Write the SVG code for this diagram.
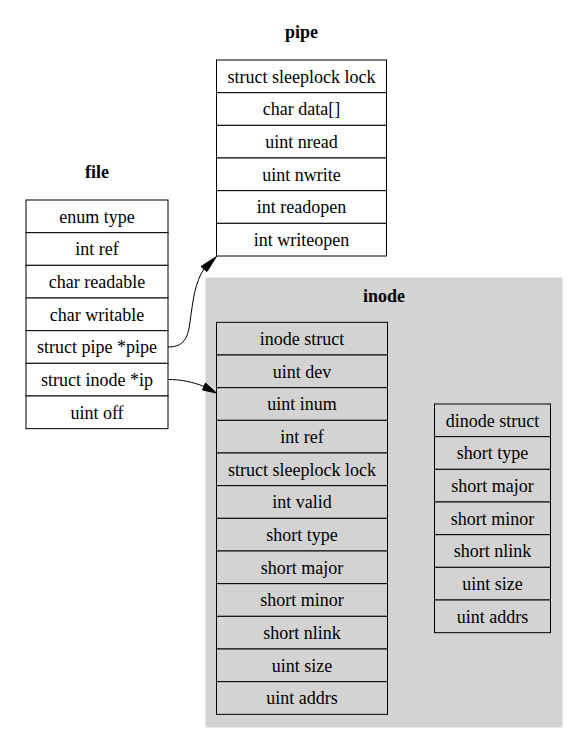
<svg xmlns="http://www.w3.org/2000/svg" width="577" height="743" viewBox="0 0 577 743">
<style>
.cell{fill:#fff;stroke:#000;stroke-width:1}
.gcell{fill:#d3d3d3;stroke:#000;stroke-width:1}
text{font-family:"Liberation Serif",serif;font-size:18px;text-anchor:middle;fill:#000}
.title{font-weight:bold}
.edge{fill:none;stroke:#000;stroke-width:1}
</style>
<rect width="577" height="743" fill="#fff"/>
<g id="cluster_inode">
<rect x="206" y="278" width="356" height="449" fill="#d3d3d3" stroke="#d3d3d3"/>
<text class="title" x="384" y="302">inode</text>
</g>
<g id="file">
<text class="title" x="97" y="178">file</text>
<rect class="cell" x="26" y="200" width="142" height="32.67"/>
<rect class="cell" x="26" y="232.67" width="142" height="32.67"/>
<rect class="cell" x="26" y="265.33" width="142" height="32.67"/>
<rect class="cell" x="26" y="298" width="142" height="32.67"/>
<rect class="cell" x="26" y="330.67" width="142" height="32.67"/>
<rect class="cell" x="26" y="363.33" width="142" height="32.67"/>
<rect class="cell" x="26" y="396" width="142" height="32.67"/>
<text x="97" y="222.5">enum type</text>
<text x="97" y="255.2">int ref</text>
<text x="97" y="287.8">char readable</text>
<text x="97" y="320.5">char writable</text>
<text x="97" y="353.2">struct pipe *pipe</text>
<text x="97" y="385.8">struct inode *ip</text>
<text x="97" y="418.5">uint off</text>
</g>
<g id="pipe">
<text class="title" x="301.5" y="38">pipe</text>
<rect class="cell" x="216.5" y="60" width="170" height="32.67"/>
<rect class="cell" x="216.5" y="92.67" width="170" height="32.67"/>
<rect class="cell" x="216.5" y="125.33" width="170" height="32.67"/>
<rect class="cell" x="216.5" y="158" width="170" height="32.67"/>
<rect class="cell" x="216.5" y="190.67" width="170" height="32.67"/>
<rect class="cell" x="216.5" y="223.33" width="170" height="32.67"/>
<text x="301.5" y="82.5">struct sleeplock lock</text>
<text x="301.5" y="115.2">char data[]</text>
<text x="301.5" y="147.8">uint nread</text>
<text x="301.5" y="180.5">uint nwrite</text>
<text x="301.5" y="213.2">int readopen</text>
<text x="301.5" y="245.8">int writeopen</text>
</g>
<g id="inode_struct">
<rect class="gcell" x="216.5" y="322.33" width="171" height="32.67"/>
<rect class="gcell" x="216.5" y="355" width="171" height="32.67"/>
<rect class="gcell" x="216.5" y="387.67" width="171" height="32.67"/>
<rect class="gcell" x="216.5" y="420.33" width="171" height="32.67"/>
<rect class="gcell" x="216.5" y="453" width="171" height="32.67"/>
<rect class="gcell" x="216.5" y="485.67" width="171" height="32.67"/>
<rect class="gcell" x="216.5" y="518.33" width="171" height="32.67"/>
<rect class="gcell" x="216.5" y="551" width="171" height="32.67"/>
<rect class="gcell" x="216.5" y="583.67" width="171" height="32.67"/>
<rect class="gcell" x="216.5" y="616.33" width="171" height="32.67"/>
<rect class="gcell" x="216.5" y="649" width="171" height="32.67"/>
<rect class="gcell" x="216.5" y="681.67" width="171" height="32.67"/>
<text x="302" y="344.8">inode struct</text>
<text x="302" y="377.5">uint dev</text>
<text x="302" y="410.2">uint inum</text>
<text x="302" y="442.8">int ref</text>
<text x="302" y="475.5">struct sleeplock lock</text>
<text x="302" y="508.2">int valid</text>
<text x="302" y="540.8">short type</text>
<text x="302" y="573.5">short major</text>
<text x="302" y="606.2">short minor</text>
<text x="302" y="638.8">short nlink</text>
<text x="302" y="671.5">uint size</text>
<text x="302" y="704.2">uint addrs</text>
</g>
<g id="dinode_struct">
<rect class="gcell" x="434.5" y="404" width="116" height="32.67"/>
<rect class="gcell" x="434.5" y="436.67" width="116" height="32.67"/>
<rect class="gcell" x="434.5" y="469.33" width="116" height="32.67"/>
<rect class="gcell" x="434.5" y="502" width="116" height="32.67"/>
<rect class="gcell" x="434.5" y="534.67" width="116" height="32.67"/>
<rect class="gcell" x="434.5" y="567.33" width="116" height="32.67"/>
<rect class="gcell" x="434.5" y="600" width="116" height="32.67"/>
<text x="492.5" y="426.5">dinode struct</text>
<text x="492.5" y="459.2">short type</text>
<text x="492.5" y="491.8">short major</text>
<text x="492.5" y="524.5">short minor</text>
<text x="492.5" y="557.2">short nlink</text>
<text x="492.5" y="589.8">uint size</text>
<text x="492.5" y="622.5">uint addrs</text>
</g>
<g id="edges">
<path class="edge" d="M168,347 C184,347 188,338 190,322 C193,300 195,282 204,269"/>
<polygon points="201,266.5 207,271.5 216.5,256.5" fill="#000" stroke="#000"/>
<path class="edge" d="M168,379.5 C181,379.5 193,382 204,386.5"/>
<polygon points="202.5,390 205.5,383 216.5,393" fill="#000" stroke="#000"/>
</g>
</svg>
